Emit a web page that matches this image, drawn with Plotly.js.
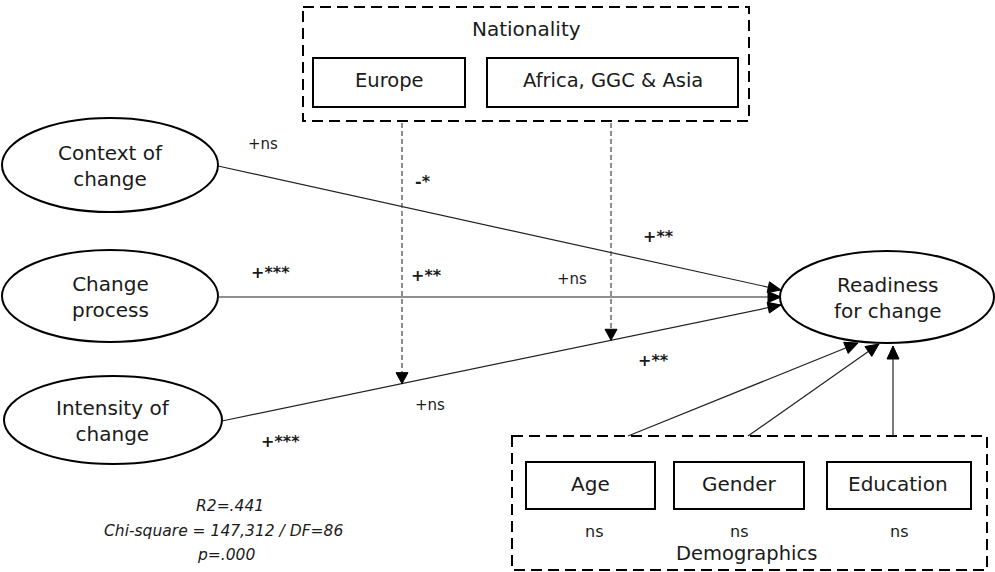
<!DOCTYPE html>
<html><head><meta charset="utf-8">
<script src="https://cdn.plot.ly/plotly-3.0.1.min.js"></script>
<style>html,body{margin:0;padding:0;background:#fff}#c{width:995px;height:572px}</style>
</head><body><div id="c"></div>
<script>
// ---- content ----
const nodeLabels = ["Context of<br>change", "Change<br>process", "Intensity of<br>change", "Readiness<br>for change"];
const groupTitles = ["Nationality", "Demographics"];
const nationalityBoxes = ["Europe", "Africa, GGC & Asia"];
const demographicBoxes = ["Age", "Gender", "Education"];
const demographicSig = ["ns", "ns", "ns"];
const pathLabels = ["+ns", "<b>-*</b>", "<b>+**</b>", "<b>+***</b>", "<b>+**</b>", "+ns", "<b>+**</b>", "+ns", "<b>+***</b>"];
const fitStats = ["R2=.441", "Chi-square = 147,312 / DF=86", "p=.000"];

// ---- layout geometry (pixels) ----
const nodeCx = [110, 110, 113, 887];
const nodeCy = [165, 296, 420, 297];
const nodeRx = [108, 108, 109, 107];
const nodeRy = [47, 46, 44, 46];
const natBoxX0 = [313, 487], natBoxX1 = [465, 738];
const demBoxX0 = [526, 674, 827], demBoxX1 = [655, 804, 971];
const pathLabelX = [263, 423, 658, 270, 426, 572, 653, 430, 280];
const pathLabelY = [144, 181, 236, 272, 275, 279, 360, 405, 441];

const FONT = "DejaVu Sans";
const shapes = [];
const ann = [];
const black = "#000";

function head(x0, y0, x1, y1, len, hw, col) {
  const dx = x1 - x0, dy = y1 - y0, L = Math.hypot(dx, dy);
  const ux = dx / L, uy = dy / L;
  const bx = x1 - ux * len, by = y1 - uy * len;
  const px = -uy * hw, py = ux * hw;
  shapes.push({type: "path", xref: "x", yref: "y",
    path: `M${x1},${y1} L${bx + px},${by + py} L${bx - px},${by - py} Z`,
    fillcolor: col, line: {color: col, width: 1}});
}
function line(x0, y0, x1, y1, w, dash, col) {
  shapes.push({type: "line", xref: "x", yref: "y", x0, y0, x1, y1,
    line: {color: col || "#222", width: w, dash: dash || "solid"}});
}
function text(x, y, t, size) {
  ann.push({x, y, xref: "x", yref: "y", text: t, showarrow: false,
    font: {family: FONT, size: size, color: "#1a1a1a"}, xanchor: "center", yanchor: "middle"});
}

// ellipses
for (let i = 0; i < nodeLabels.length; i++) {
  shapes.push({type: "circle", xref: "x", yref: "y",
    x0: nodeCx[i] - nodeRx[i], x1: nodeCx[i] + nodeRx[i],
    y0: nodeCy[i] - nodeRy[i], y1: nodeCy[i] + nodeRy[i],
    line: {color: black, width: 2}, fillcolor: "rgba(0,0,0,0)"});
  text(nodeCx[i], nodeCy[i] + 1, nodeLabels[i], 20);
}

// Nationality group
shapes.push({type: "rect", xref: "x", yref: "y", x0: 303, x1: 749, y0: 7, y1: 121,
  line: {color: black, width: 2, dash: "11px,6px"}});
text(526, 29, groupTitles[0], 20);
for (let i = 0; i < nationalityBoxes.length; i++) {
  shapes.push({type: "rect", xref: "x", yref: "y", x0: natBoxX0[i], x1: natBoxX1[i], y0: 58, y1: 107,
    line: {color: black, width: 2}});
  text((natBoxX0[i] + natBoxX1[i]) / 2, 80, nationalityBoxes[i], 19.5);
}

// Demographics group
shapes.push({type: "rect", xref: "x", yref: "y", x0: 512, x1: 987, y0: 436, y1: 570,
  line: {color: black, width: 2, dash: "11px,6px"}});
for (let i = 0; i < demographicBoxes.length; i++) {
  shapes.push({type: "rect", xref: "x", yref: "y", x0: demBoxX0[i], x1: demBoxX1[i], y0: 462, y1: 509,
    line: {color: black, width: 2}});
  text((demBoxX0[i] + demBoxX1[i]) / 2 + (i === 2 ? -1 : 0), 484, demographicBoxes[i], 20);
  text((demBoxX0[i] + demBoxX1[i]) / 2 + (i === 0 ? 3 : 0), 531, demographicSig[i], 16);
}
text(746, 553, groupTitles[1], 19.5);

// predictor paths to readiness
const tgtX = 781;
const srcPts = [[218, 166], [218, 297], [222, 421]];
const tgtPts = [[tgtX, 290], [tgtX, 297], [tgtX, 305]];
for (let i = 0; i < 3; i++) {
  line(srcPts[i][0], srcPts[i][1], tgtPts[i][0], tgtPts[i][1], 1.2);
  head(srcPts[i][0], srcPts[i][1], tgtPts[i][0], tgtPts[i][1], 13, 5.5, black);
}

// moderation dashed arrows
function yOnIntensity(x) {
  const [a, b] = [srcPts[2], tgtPts[2]];
  return a[1] + (b[1] - a[1]) * (x - a[0]) / (b[0] - a[0]);
}
[402, 611].forEach(x => {
  const yt = yOnIntensity(x);
  line(x, 123, x, yt - 8, 1.2, "5px,3px", "#444");
  head(x, 123, x, yt, 11, 6, black);
});

// demographics arrows
const demoSrc = [[628, 436], [748, 436], [893, 436]];
const demoTgt = [[858, 343], [879, 344], [893, 346]];
for (let i = 0; i < 3; i++) {
  line(demoSrc[i][0], demoSrc[i][1], demoTgt[i][0], demoTgt[i][1], 1.2);
  head(demoSrc[i][0], demoSrc[i][1], demoTgt[i][0], demoTgt[i][1], 13, 6, black);
}

// path labels
for (let i = 0; i < pathLabels.length; i++)
  text(pathLabelX[i], pathLabelY[i], pathLabels[i], pathLabels[i].indexOf("<b>") === 0 ? 16 : 15);

// fit stats
const statY = [506, 531, 555];
const statX = [230, 223, 226];
for (let i = 0; i < fitStats.length; i++) text(statX[i], statY[i], "<i>" + fitStats[i] + "</i>", 15.5);

const layout = {
  width: 995, height: 572, margin: {l: 0, r: 0, t: 0, b: 0},
  paper_bgcolor: "#fff", plot_bgcolor: "#fff", showlegend: false,
  xaxis: {range: [0, 995], visible: false, fixedrange: true},
  yaxis: {range: [572, 0], visible: false, fixedrange: true},
  shapes: shapes, annotations: ann
};
Plotly.newPlot("c", [], layout, {staticPlot: true, displayModeBar: false});
</script></body></html>
